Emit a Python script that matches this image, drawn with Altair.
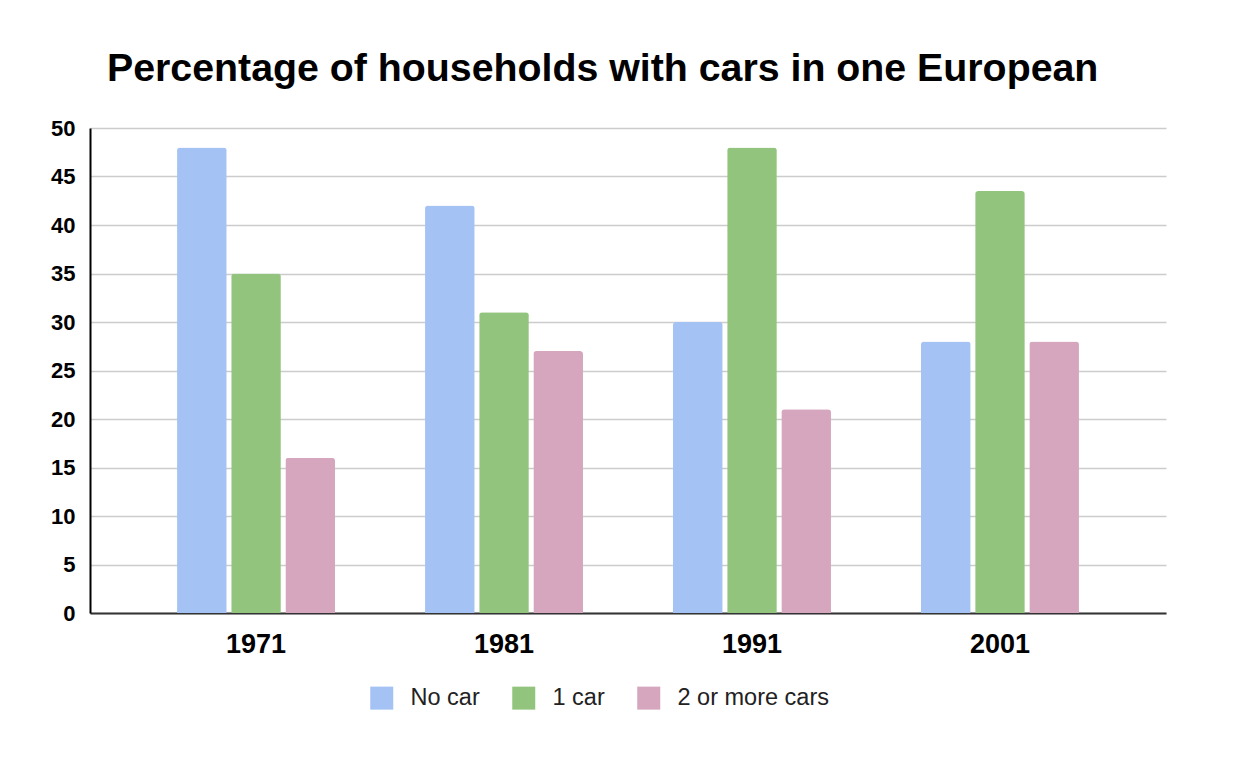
import altair as alt
import pandas as pd

years = ["1971", "1981", "1991", "2001"]
series = ["No car", "1 car", "2 or more cars"]
no_car = [48, 42, 30, 28]
one_car = [35, 31, 48, 43.5]
two_plus = [16, 27, 21, 28]
colors = ["#a4c2f4", "#93c47d", "#d5a6bd"]

rows = []
for name, vals in zip(series, [no_car, one_car, two_plus]):
    for y, v in zip(years, vals):
        rows.append({"year": y, "series": name, "value": v})
df = pd.DataFrame(rows)

FONT = "Liberation Sans"

chart = alt.Chart(df).mark_bar(
    cornerRadiusTopLeft=3, cornerRadiusTopRight=3
).encode(
    x=alt.X("year:N", sort=years, title=None,
            scale=alt.Scale(paddingInner=0.363, paddingOuter=0.351),
            axis=alt.Axis(labelAngle=0, labelFont=FONT, labelFontSize=27,
                          labelFontWeight="bold", labelColor="#000000",
                          ticks=False, tickSize=0, labelPadding=18,
                          domainColor="#333333", domainWidth=2, grid=False)),
    xOffset=alt.XOffset("series:N", sort=series,
                        scale=alt.Scale(paddingInner=0.083, paddingOuter=0)),
    y=alt.Y("value:Q", title=None,
            scale=alt.Scale(domain=[0, 50], nice=False),
            axis=alt.Axis(values=list(range(0, 51, 5)), labelFont=FONT,
                          labelFontSize=22, labelFontWeight="bold",
                          labelColor="#000000", ticks=False, tickSize=0,
                          labelPadding=15, domainColor="#000000",
                          domainWidth=2, gridColor="#cccccc", gridWidth=1.5)),
    color=alt.Color("series:N", sort=series,
                    scale=alt.Scale(domain=series, range=colors),
                    legend=alt.Legend(title=None, orient="none",
                                      direction="horizontal",
                                      legendX=280, legendY=558,
                                      symbolType="square", symbolSize=529,
                                      symbolStrokeWidth=0, symbolOpacity=1,
                                      labelFont=FONT, labelFontSize=23.5,
                                      labelColor="#222222", labelOffset=17,
                                      columnPadding=32, padding=0)),
).properties(
    width=1076,
    height=485,
    background="#ffffff",
    title=alt.TitleParams(
        "Percentage of households with cars in one European",
        anchor="start", frame="group", dx=17, offset=28,
        font=FONT, fontSize=39.3, fontWeight="bold", color="#000000"),
    autosize=alt.AutoSizeParams(type="none"),
    padding={"left": 82, "top": 120, "right": 60, "bottom": 130},
).configure_view(stroke=None)

chart.save("out.html", embed_options={"renderer": "svg", "actions": False})
